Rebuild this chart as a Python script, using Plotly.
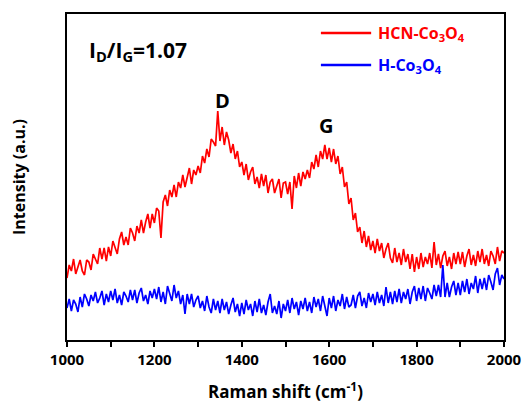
import plotly.graph_objects as go

# Raman shift axis (cm^-1), 5 cm^-1 steps
shift = list(range(1000, 2001, 5))

# HCN-Co3O4 intensity (arbitrary units)
hcn = [
    62, 75, 69, 81, 66, 73, 80, 69, 65, 80,
    78, 70, 86, 81, 76, 92, 81, 92, 79, 93,
    84, 99, 92, 86, 101, 108, 95, 103, 95, 112,
    107, 99, 114, 107, 120, 107, 118, 126, 112, 126,
    117, 132, 129, 102, 138, 145, 134, 150, 143, 155,
    143, 158, 152, 165, 153, 163, 172, 156, 170, 165,
    174, 167, 184, 177, 191, 183, 201, 198, 194, 229,
    199, 213, 195, 208, 200, 187, 196, 181, 189, 173,
    178, 165, 176, 160, 168, 173, 156, 163, 152, 166,
    154, 165, 147, 158, 161, 147, 154, 161, 142, 157,
    158, 146, 158, 131, 164, 152, 167, 154, 168, 161,
    170, 162, 178, 171, 185, 173, 189, 181, 195, 181,
    192, 178, 191, 176, 184, 166, 173, 153, 158, 136,
    142, 120, 127, 108, 113, 97, 109, 93, 104, 90,
    99, 87, 101, 89, 97, 82, 91, 97, 82, 77,
    92, 78, 87, 75, 91, 78, 86, 71, 86, 68,
    83, 71, 87, 73, 83, 76, 87, 72, 98, 75,
    86, 72, 84, 89, 74, 83, 71, 87, 76, 88,
    76, 88, 73, 84, 91, 75, 85, 74, 89, 78,
    91, 76, 85, 74, 89, 84, 76, 93, 79, 89, 87,
]

# H-Co3O4 intensity (arbitrary units)
h = [
    32, 41, 29, 40, 36, 28, 43, 33, 46, 41,
    34, 45, 39, 48, 37, 42, 49, 35, 46, 38,
    49, 40, 51, 37, 45, 35, 48, 44, 38, 50,
    40, 50, 37, 47, 52, 39, 45, 36, 49, 42,
    51, 41, 53, 38, 48, 36, 54, 46, 39, 55,
    42, 49, 36, 45, 26, 46, 36, 46, 33, 40,
    44, 32, 39, 29, 44, 33, 27, 41, 30, 39,
    27, 41, 30, 38, 26, 35, 42, 28, 36, 24,
    37, 26, 40, 30, 36, 24, 39, 28, 41, 27,
    35, 25, 38, 46, 27, 34, 26, 39, 22, 36,
    29, 40, 27, 42, 31, 38, 25, 39, 31, 42,
    29, 38, 27, 43, 33, 41, 29, 44, 32, 24,
    42, 32, 44, 29, 40, 34, 46, 31, 43, 33,
    35, 45, 32, 44, 48, 34, 42, 32, 47, 38,
    46, 35, 48, 37, 45, 34, 53, 37, 48, 36,
    49, 38, 51, 37, 48, 41, 51, 36, 48, 54,
    39, 52, 41, 54, 39, 52, 47, 41, 55, 44,
    55, 43, 75, 43, 57, 43, 53, 59, 45, 57,
    45, 59, 48, 61, 46, 57, 51, 64, 47, 61,
    51, 62, 50, 65, 58, 50, 66, 72, 55, 65, 61,
]

series_names = ["HCN-Co<sub>3</sub>O<sub>4</sub>", "H-Co<sub>3</sub>O<sub>4</sub>"]
series_colors = ["#ff0000", "#0000ff"]
tick_vals = [1000, 1200, 1400, 1600, 1800, 2000]

FONT = "'Open Sans', sans-serif"

fig = go.Figure()
fig.add_trace(go.Scatter(x=shift, y=hcn, mode="lines", name=series_names[0],
                         line=dict(color=series_colors[0], width=1.7)))
fig.add_trace(go.Scatter(x=shift, y=h, mode="lines", name=series_names[1],
                         line=dict(color=series_colors[1], width=1.7)))

fig.update_layout(
    width=525, height=403,
    margin=dict(l=67, r=21, t=14, b=63),
    paper_bgcolor="white", plot_bgcolor="white",
    showlegend=False,
    font=dict(family=FONT, color="black", size=15),
)
fig.update_xaxes(
    range=[1000, 2000], tickvals=tick_vals, automargin=False,
    ticktext=["<b>%d</b>" % v for v in tick_vals],
    ticks="outside", ticklen=5, tickwidth=1.5, tickcolor="black",
    minor=dict(dtick=100, ticks="outside", ticklen=5, tickwidth=1.5, tickcolor="black"),
    showline=True, linecolor="black", linewidth=1.8, mirror=True,
    showgrid=False, zeroline=False,
    tickfont=dict(family=FONT, size=15, color="black"),
    title=dict(text="<b>Raman shift (cm<sup>-1</sup>)</b>", standoff=18,
               font=dict(family=FONT, size=17, color="black")),
)
fig.update_yaxes(
    range=[0, 326], showticklabels=False, ticks="", automargin=False,
    showline=True, linecolor="black", linewidth=1.8, mirror=True,
    showgrid=False, zeroline=False,
    title=dict(text="<b>Intensity (a.u.)</b>", standoff=36,
               font=dict(family=FONT, size=16, color="black")),
)

# Text annotations
fig.add_annotation(xref="paper", yref="paper", x=0.045, y=0.885, xanchor="left", yanchor="middle",
                   text="<b>I<sub>D</sub>/I<sub>G</sub>=1.07</b>", showarrow=False,
                   font=dict(family=FONT, size=21, color="black"))
fig.add_annotation(x=1355, y=240, text="<b>D</b>", showarrow=False, yanchor="middle",
                   font=dict(family=FONT, size=20, color="black"))
fig.add_annotation(x=1593, y=215, text="<b>G</b>", showarrow=False, yanchor="middle",
                   font=dict(family=FONT, size=20, color="black"))

# Legend (manual)
leg_y = [307, 275]
for name, col, yy in zip(series_names, series_colors, leg_y):
    fig.add_shape(type="line", x0=1581, x1=1696, y0=yy, y1=yy,
                  line=dict(color=col, width=2.4))
    fig.add_annotation(x=1708, y=yy, text="<b>%s</b>" % name, showarrow=False, xanchor="left",
                       yanchor="middle",
                       font=dict(family=FONT, size=16, color=col))

fig.write_html("out.html")
